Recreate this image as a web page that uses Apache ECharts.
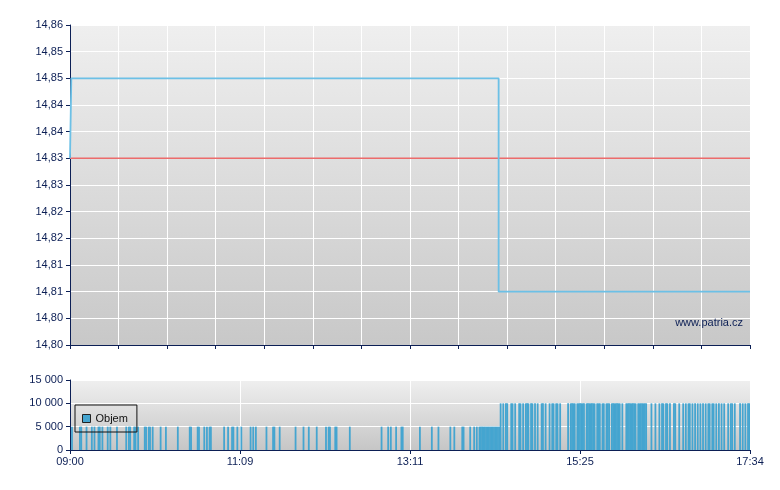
<!DOCTYPE html>
<html>
<head>
<meta charset="utf-8">
<script src="https://cdn.jsdelivr.net/npm/echarts@6/dist/echarts.min.js"></script>
<style>
html,body{margin:0;padding:0;background:#fff;}
#chart{width:780px;height:490px;}
</style>
</head>
<body>
<div id="chart"></div>
<script>
// ---- data ----
// minutes from 09:00 (session 09:00 - 17:34 = 514 min)
const sessionMinutes = 514;
const timeLabels = ["09:00", "11:09", "13:11", "15:25", "17:34"];
const priceTickLabels = ["14,80","14,80","14,81","14,81","14,82","14,82","14,83","14,83","14,84","14,84","14,85","14,85","14,86"];
const volumeTickLabels = ["0", "5 000", "10 000", "15 000"];

// price (step line)
const priceTimes  = [0, 1, 324, 514];
const priceValues = [14.835, 14.85, 14.81, 14.81];
// previous close reference
const prevClose = 14.835;

// volume bars: minutes with a 5 000 trade
const vol5000Minutes = [1,7,8,12,16,18,21,22,24,28,30,35,42,44,45,48,49,51,56,57,59,60,62,68,72,81,90,91,96,97,
  101,103,105,106,116,119,122,123,126,129,136,138,140,148,153,154,158,170,176,180,186,193,195,196,200,201,211,
  235,240,242,246,250,251,264,273,278,287,290,296,297,302,305,307,
  309,310,311,312,313,314,315,316,317,318,319,320,321,322,323,324];
// volume bars: minutes with a 10 000 trade
const vol10000Minutes = [325,327,329,330,333,334,336,339,340,342,344,345,346,348,349,351,353,356,357,359,362,364,365,
  367,368,370,376,378,379,380,381,383,384,385,386,387,388,390,391,392,393,394,395,396,398,399,400,402,403,
  405,406,407,409,410,411,412,413,414,415,417,420,421,422,423,424,425,426,427,429,430,431,432,433,434,435,
  439,442,445,447,448,450,451,453,456,457,460,463,465,467,468,470,472,474,476,478,480,482,483,485,486,488,
  490,492,494,497,499,500,502,506,508,510,512,513];

// ---- build ----
const minuteCats = [];
const volumeData = [];
for (let i = 0; i < sessionMinutes; i++) { minuteCats.push(i); volumeData.push(0); }
vol5000Minutes.forEach(m => { volumeData[m] = 5000; });
vol10000Minutes.forEach(m => { volumeData[m] = 10000; });
const priceData = priceTimes.map((t, i) => [t, priceValues[i]]);
const prevData = [[0, prevClose], [sessionMinutes, prevClose]];

const NAVY = '#0c1f55';
const FONT = 'Liberation Sans, Arial, sans-serif';
function bg(top, bottom) {
  return {type:'linear', x:0, y:0, x2:0, y2:1, colorStops:[{offset:0,color:top},{offset:1,color:bottom}]};
}

const chart = echarts.init(document.getElementById('chart'), null, {renderer:'canvas'});
chart.setOption({
  animation: false,
  backgroundColor: '#ffffff',
  textStyle: {fontFamily: FONT},
  grid: [
    {left:70, top:25, width:680, height:320, show:true, borderWidth:0, backgroundColor: bg('#efefef','#c8c8c8')},
    {left:70, top:380, width:680, height:70, show:true, borderWidth:0, backgroundColor: bg('#efefef','#c6c6c6')}
  ],
  legend: {
    data: ['Objem'],
    left: 75, top: 405,
    orient: 'horizontal',
    backgroundColor: 'transparent',
    borderColor: '#111', borderWidth: 1, borderRadius: 0,
    padding: [8, 9, 8, 7],
    itemWidth: 8, itemHeight: 8, itemGap: 5,
    icon: 'rect',
    itemStyle: {color:'#45a5d0', borderColor:'#222', borderWidth:1},
    textStyle: {fontFamily: FONT, fontSize: 11, color: '#111', padding:[0,0,0,0]}
  },
  graphic: [{
    type: 'text', right: 37, top: 317, z: 10,
    style: {text: 'www.patria.cz', fill: NAVY, font: '11px ' + FONT}
  }],
  xAxis: [
    {gridIndex:0, type:'value', min:0, max:sessionMinutes, show:false},
    {gridIndex:0, type:'value', min:0, max:14, interval:1, position:'bottom',
      axisLine:{show:true, lineStyle:{color:NAVY, width:1}},
      axisTick:{show:true, length:4, lineStyle:{color:NAVY}},
      axisLabel:{show:false},
      splitLine:{show:true, lineStyle:{color:'#ffffff', width:1}}},
    {gridIndex:1, type:'category', data:minuteCats, show:false, boundaryGap:true},
    {gridIndex:1, type:'value', min:0, max:4, interval:1, position:'bottom',
      axisLine:{show:true, lineStyle:{color:NAVY, width:1}},
      axisTick:{show:true, length:4, lineStyle:{color:NAVY}},
      axisLabel:{show:true, color:NAVY, fontSize:11, fontFamily:FONT, margin:6,
        formatter: v => timeLabels[Math.round(v)] || ''},
      splitLine:{show:true, lineStyle:{color:'#ffffff', width:1}}}
  ],
  yAxis: [
    {gridIndex:0, type:'value', min:14.80, max:14.86, interval:0.005,
      axisLine:{show:true, lineStyle:{color:NAVY, width:1}},
      axisTick:{show:true, length:4, lineStyle:{color:NAVY}},
      axisLabel:{color:NAVY, fontSize:11, fontFamily:FONT, margin:7,
        formatter: v => priceTickLabels[Math.round((v - 14.80) / 0.005)] || ''},
      splitLine:{show:true, lineStyle:{color:'#ffffff', width:1}}},
    {gridIndex:1, type:'value', min:0, max:15000, interval:5000,
      axisLine:{show:true, lineStyle:{color:NAVY, width:1}},
      axisTick:{show:true, length:4, lineStyle:{color:NAVY}},
      axisLabel:{color:NAVY, fontSize:11, fontFamily:FONT, margin:7,
        formatter: v => volumeTickLabels[Math.round(v / 5000)] || ''},
      splitLine:{show:true, lineStyle:{color:'#ffffff', width:1}}}
  ],
  series: [
    {name:'Předchozí', type:'line', xAxisIndex:0, yAxisIndex:0, data: prevData,
      symbol:'none', lineStyle:{color:'#ec6b6b', width:1.5}, z:3},
    {name:'Cena', type:'line', xAxisIndex:0, yAxisIndex:0, data: priceData, step:'end',
      symbol:'none', lineStyle:{color:'#6cc0e6', width:1.8}, z:4},
    {name:'Objem', type:'bar', xAxisIndex:2, yAxisIndex:1, data: volumeData,
      barWidth: 1.8, barGap:'-100%', itemStyle:{color:'#45a5d0'}, z:2}
  ]
});
</script>
</body>
</html>
